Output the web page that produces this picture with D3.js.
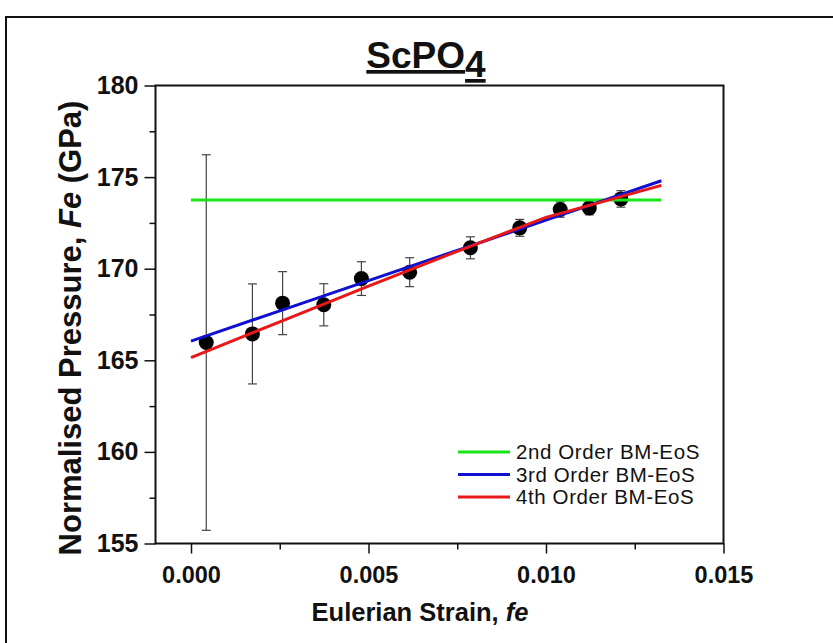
<!DOCTYPE html>
<html><head><meta charset="utf-8">
<script src="https://cdn.jsdelivr.net/npm/d3@7"></script>
<style>html,body{margin:0;padding:0;background:#fff;}svg{display:block;font-family:"Liberation Sans",Arial,sans-serif;}</style>
</head><body>
<script>
// ---- data ----
const strain   = [0.00043, 0.00173, 0.00258, 0.00374, 0.0048, 0.00616, 0.00787, 0.00926, 0.0104, 0.01122, 0.01211];
const pressure = [165.97, 166.44, 168.12, 168.03, 169.46, 169.81, 171.14, 172.23, 173.23, 173.32, 173.81];
const errors   = [10.25, 2.73, 1.72, 1.15, 0.92, 0.79, 0.60, 0.46, 0.42, 0.38, 0.45];
const fitStrain   = [0, 0.0025, 0.005, 0.0075, 0.01, 0.01325];
const fit2nd      = [173.75, 173.75, 173.75, 173.75, 173.75, 173.75];
const fit3rd      = [166.05, 167.70, 169.35, 171.00, 172.65, 174.80];
const fit4th      = [165.15, 167.10, 169.05, 170.95, 172.80, 174.55];
const legendLabels = ["2nd Order BM-EoS", "3rd Order BM-EoS", "4th Order BM-EoS"];
const xTicks = [0.000, 0.005, 0.010, 0.015];
const yTicks = [155, 160, 165, 170, 175, 180];

const W = 833, H = 643;
const m = {left:155.5, right:723.5, top:85.5, bottom:543.5};
const svg = d3.select("body").append("svg").attr("width",W).attr("height",H);

// outer frame (top and left visible)
svg.append("path").attr("d",`M6,${H}V17H${W}`).attr("fill","none").attr("stroke","#111").attr("stroke-width",2);

const x = d3.scaleLinear().domain([-0.001,0.015]).range([m.left,m.right]);
const y = d3.scaleLinear().domain([155,180]).range([m.bottom,m.top]);

// frame
svg.append("rect").attr("x",m.left).attr("y",m.top).attr("width",m.right-m.left).attr("height",m.bottom-m.top)
  .attr("fill","none").attr("stroke","#111").attr("stroke-width",2);

// axes
const xMinor = [0.0025,0.0075,0.0125];
const yMinor = [157.5,162.5,167.5,172.5,177.5];
const gx = svg.append("g").attr("transform",`translate(0,${m.bottom})`)
  .call(d3.axisBottom(x).tickValues(xTicks).tickFormat(d3.format(".3f")).tickSize(10).tickSizeOuter(0));
svg.append("g").attr("transform",`translate(0,${m.bottom})`)
  .call(d3.axisBottom(x).tickValues(xMinor).tickFormat("").tickSize(6).tickSizeOuter(0))
  .call(g=>g.select(".domain").remove());
const gy = svg.append("g").attr("transform",`translate(${m.left},0)`)
  .call(d3.axisLeft(y).tickValues(yTicks).tickFormat(d3.format("d")).tickSize(11).tickSizeOuter(0));
svg.append("g").attr("transform",`translate(${m.left},0)`)
  .call(d3.axisLeft(y).tickValues(yMinor).tickFormat("").tickSize(6).tickSizeOuter(0))
  .call(g=>g.select(".domain").remove());
svg.selectAll(".tick line").attr("stroke","#111").attr("stroke-width",1.5);
gx.selectAll("text").attr("font-size",23.5).attr("font-weight","bold").attr("fill","#111").attr("dy","1.12em");
gy.selectAll("text").attr("font-size",25).attr("font-weight","bold").attr("fill","#111").attr("dx","-0.12em");
gx.select(".domain").remove(); gy.select(".domain").remove();

// lines
const line = d3.line().x(d=>x(d[0])).y(d=>y(d[1]));
const fits = [
  {vals:fit2nd, color:"#19e619"},
  {vals:fit3rd, color:"#1010d0"},
  {vals:fit4th, color:"#e81818"}
];

// error bars
const pts = strain.map((s,i)=>({s, p:pressure[i], e:errors[i]}));
const eb = svg.append("g").attr("stroke","#444").attr("stroke-width",1.2);
pts.forEach(d=>{
  eb.append("line").attr("x1",x(d.s)).attr("x2",x(d.s)).attr("y1",y(d.p-d.e)).attr("y2",y(d.p+d.e));
  [d.p-d.e,d.p+d.e].forEach(v=>eb.append("line").attr("x1",x(d.s)-4.5).attr("x2",x(d.s)+4.5).attr("y1",y(v)).attr("y2",y(v)));
});
// points
svg.append("g").selectAll("circle").data(pts).join("circle")
  .attr("cx",d=>x(d.s)).attr("cy",d=>y(d.p)).attr("r",7.5).attr("fill","#000");

fits.forEach(f=>{
  svg.append("path").datum(fitStrain.map((s,i)=>[s,f.vals[i]])).attr("d",line)
    .attr("fill","none").attr("stroke",f.color).attr("stroke-width",3);
});

// legend
const lg = svg.append("g");
legendLabels.forEach((lab,i)=>{
  const ly = 452 + i*22.5;
  lg.append("line").attr("x1",458).attr("x2",510).attr("y1",ly).attr("y2",ly).attr("stroke",fits[i].color).attr("stroke-width",3);
  lg.append("text").attr("x",516).attr("y",ly).attr("dy","0.36em").attr("font-size",20.5)
    .attr("letter-spacing","0.6px").attr("fill","#111").text(lab);
});

// title
const t = svg.append("text").attr("x",426).attr("y",68).attr("text-anchor","middle")
  .attr("font-size",37).attr("font-weight","bold").attr("fill","#111").attr("text-decoration","underline");
t.append("tspan").text("ScPO");
t.append("tspan").attr("dy",9).text("4");

// axis titles
const xl = svg.append("text").attr("x",420).attr("y",621).attr("text-anchor","middle")
  .attr("font-size",25.5).attr("font-weight","bold").attr("fill","#111");
xl.append("tspan").text("Eulerian Strain, ");
xl.append("tspan").attr("font-style","italic").text("fe");

const yl = svg.append("text").attr("transform","translate(81,328) rotate(-90)").attr("text-anchor","middle")
  .attr("font-size",31).attr("font-weight","bold").attr("fill","#111");
yl.append("tspan").text("Normalised Pressure, ");
yl.append("tspan").attr("font-style","italic").text("Fe");
yl.append("tspan").text(" (GPa)");
</script>
</body></html>
